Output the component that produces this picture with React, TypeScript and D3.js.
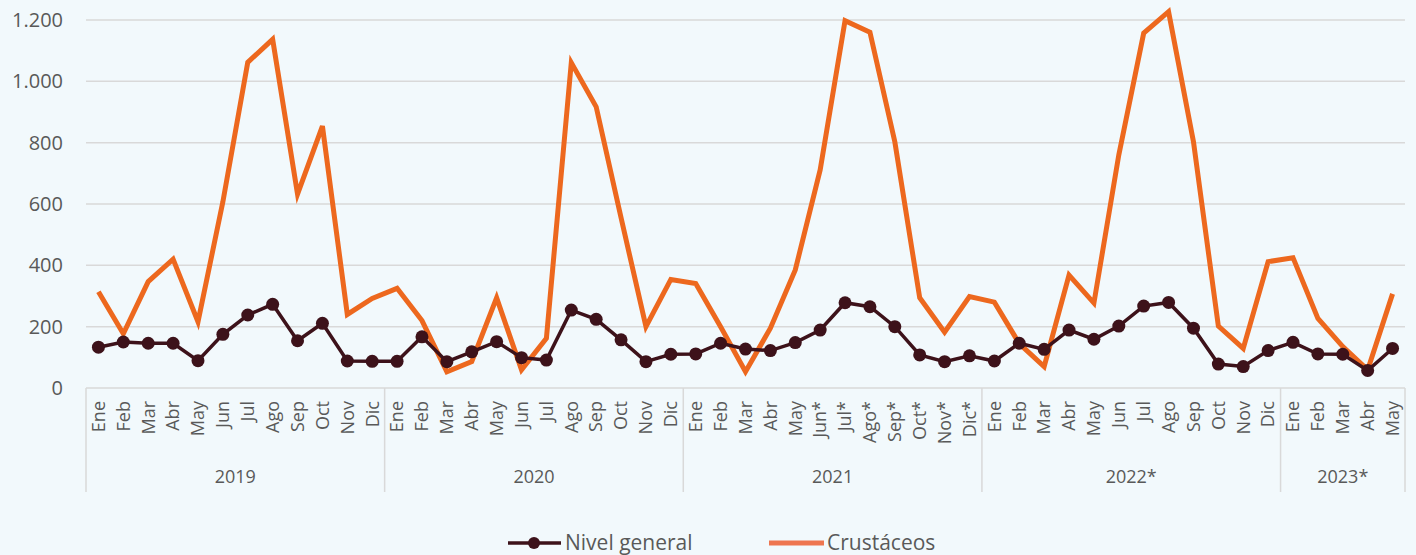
import React from "react";
import * as d3 from "d3";

const years = ["2019", "2020", "2021", "2022*", "2023*"];
const monthsPerYear = [
  ["Ene", "Feb", "Mar", "Abr", "May", "Jun", "Jul", "Ago", "Sep", "Oct", "Nov", "Dic"],
  ["Ene", "Feb", "Mar", "Abr", "May", "Jun", "Jul", "Ago", "Sep", "Oct", "Nov", "Dic"],
  ["Ene", "Feb", "Mar", "Abr", "May", "Jun*", "Jul*", "Ago*", "Sep*", "Oct*", "Nov*", "Dic*"],
  ["Ene", "Feb", "Mar", "Abr", "May", "Jun", "Jul", "Ago", "Sep", "Oct", "Nov", "Dic"],
  ["Ene", "Feb", "Mar", "Abr", "May"],
];

const nivelGeneral = [
  133, 150, 146, 146, 89, 175, 238, 273, 154, 211, 88, 87,
  87, 167, 86, 118, 151, 99, 91, 254, 224, 157, 86, 110,
  111, 146, 127, 122, 148, 189, 278, 265, 200, 108, 86, 105,
  88, 146, 126, 189, 159, 202, 267, 279, 195, 78, 70, 122,
  149, 111, 110, 57, 129,
];

const crustaceos = [
  314, 177, 347, 420, 216, 607, 1062, 1137, 632, 854, 240, 292,
  325, 220, 53, 86, 294, 59, 162, 1061, 917, 555, 200, 354,
  341, 200, 53, 195, 385, 711, 1198, 1160, 803, 294, 182, 298,
  280, 145, 70, 368, 277, 760, 1157, 1227, 803, 202, 129, 412,
  425, 227, 135, 59, 307,
];

const yTicks = [0, 200, 400, 600, 800, 1000, 1200];
const seriesNames = ["Nivel general", "Crustáceos"];

const W = 1416;
const H = 555;
const ORANGE = "#ED681E";
const DARK = "#3D121A";
const GRID = "#D9D9D9";
const TEXT = "#595959";

export default function App() {
  const months: { label: string; year: number }[] = [];
  monthsPerYear.forEach((ms, yi) => ms.forEach((m) => months.push({ label: m, year: yi })));
  const idx = months.map((_, i) => String(i));

  const x = d3.scaleBand<string>().domain(idx).range([86, 1405]).padding(0);
  const cx = (i: number) => (x(String(i)) as number) + x.bandwidth() / 2;
  const y = d3.scaleLinear().domain([0, 1200]).range([388, 20]);

  const lineGen = d3
    .line<number>()
    .x((_, i) => cx(i))
    .y((d) => y(d));

  const boundaries: number[] = [0];
  let acc = 0;
  monthsPerYear.forEach((ms) => {
    acc += ms.length;
    boundaries.push(acc);
  });
  const bx = (k: number) => (k < months.length ? (x(String(k)) as number) : 1405);

  const font = "'Open Sans', sans-serif";

  return (
    <svg
      width={W}
      height={H}
      style={{ position: "absolute", left: 0, top: 0, background: "#F2F9FC" }}
    >
      <rect x={0} y={0} width={W} height={H} fill="#F2F9FC" />
      {yTicks.map((t) => (
        <g key={t}>
          {t > 0 && (
            <line x1={86} x2={1405} y1={y(t)} y2={y(t)} stroke={GRID} strokeWidth={1.5} />
          )}
          <text
            x={63}
            y={y(t)}
            dy="0.35em"
            textAnchor="end"
            fontFamily={font}
            fontSize={20}
            fill={TEXT}
          >
            {d3.format(",")(t).replace(/,/g, ".")}
          </text>
        </g>
      ))}
      <line x1={86} x2={1405} y1={388} y2={388} stroke={GRID} strokeWidth={1.5} />
      {boundaries.map((k, i) => (
        <line key={i} x1={bx(k)} x2={bx(k)} y1={388} y2={492} stroke={GRID} strokeWidth={1.5} />
      ))}
      {months.map((m, i) => (
        <text
          key={i}
          transform={`translate(${cx(i)},401) rotate(-90)`}
          textAnchor="end"
          dy="0.35em"
          fontFamily={font}
          fontSize={18}
          fill={TEXT}
        >
          {m.label}
        </text>
      ))}
      {years.map((yr, i) => (
        <text
          key={yr}
          x={(bx(boundaries[i]) + bx(boundaries[i + 1])) / 2}
          y={477}
          dy="0.35em"
          textAnchor="middle"
          fontFamily={font}
          fontSize={18}
          fill={TEXT}
        >
          {yr}
        </text>
      ))}
      <path
        d={lineGen(crustaceos) as string}
        fill="none"
        stroke={ORANGE}
        strokeWidth={5}
        strokeLinejoin="miter"
      />
      <path d={lineGen(nivelGeneral) as string} fill="none" stroke={DARK} strokeWidth={3.5} />
      {nivelGeneral.map((v, i) => (
        <circle key={i} cx={cx(i)} cy={y(v)} r={6.5} fill={DARK} />
      ))}
      <g>
        <line x1={508} x2={561} y1={543} y2={543} stroke={DARK} strokeWidth={3.5} />
        <circle cx={534} cy={543} r={6} fill={DARK} />
        <text x={565} y={543} dy="0.35em" fontFamily={font} fontSize={21} fill={TEXT}>
          {seriesNames[0]}
        </text>
        <line x1={769} x2={824} y1={543} y2={543} stroke="#EE7650" strokeWidth={5} />
        <text x={827} y={543} dy="0.35em" fontFamily={font} fontSize={21} fill={TEXT}>
          {seriesNames[1]}
        </text>
      </g>
    </svg>
  );
}
